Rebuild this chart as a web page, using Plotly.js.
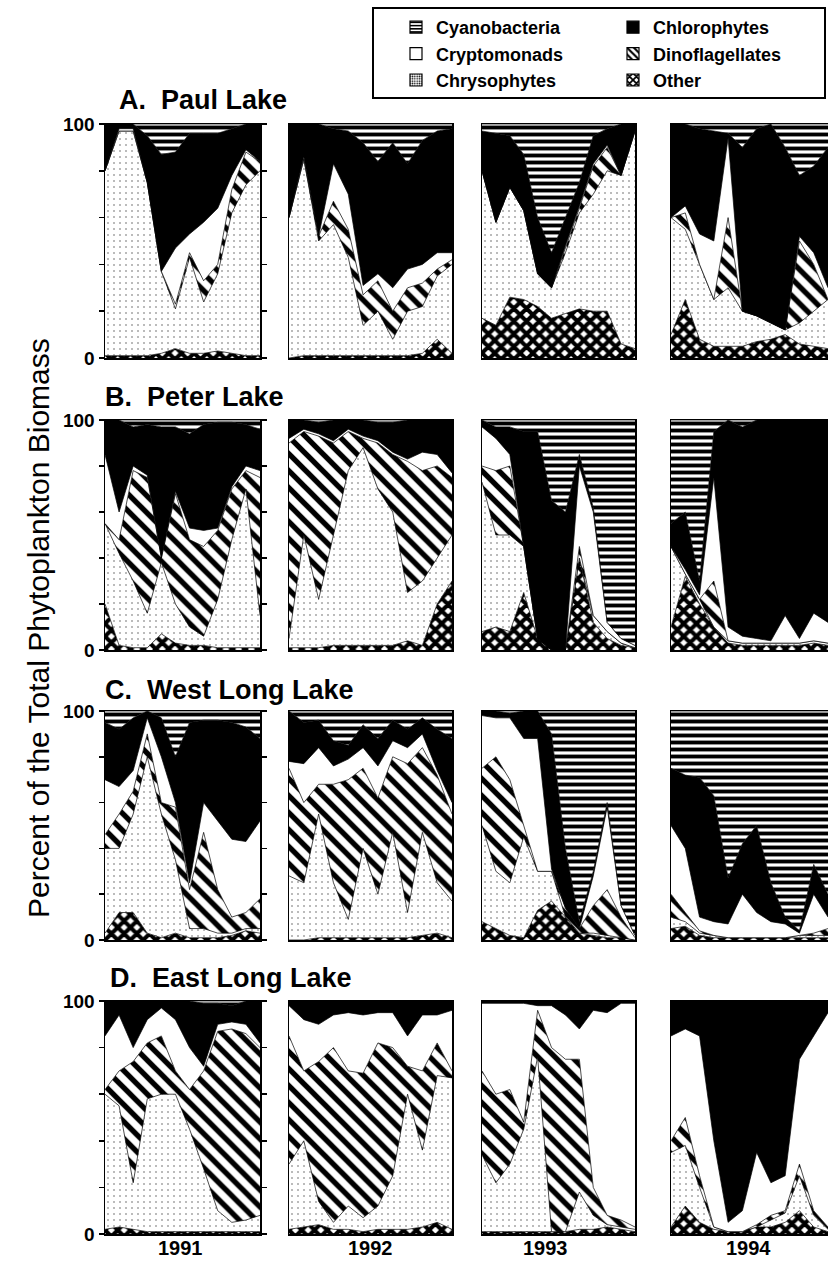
<!DOCTYPE html>
<html>
<head>
<meta charset="utf-8">
<script src="https://cdn.plot.ly/plotly-3.0.1.min.js"></script>
<style>html,body{margin:0;padding:0;background:#fff;}#chart{width:828px;height:1264px;}</style>
</head>
<body>
<div id="chart"></div>
<script>
// ---- data: percent of total phytoplankton biomass, 12 sampling dates per summer ----
const sampleNo = [1,2,3,4,5,6,7,8,9,10,11,12];
const years = ['1991','1992','1993','1994'];
const lakeTitles = ['A.\u00a0\u00a0Paul Lake','B.\u00a0\u00a0Peter Lake','C.\u00a0\u00a0West Long Lake','D.\u00a0\u00a0East Long Lake'];

// stacking order (bottom -> top)
const taxaKeys  = ['other','chryso','dino','crypto','chloro','cyano'];
const taxaNames = ['Other','Chrysophytes','Dinoflagellates','Cryptomonads','Chlorophytes','Cyanobacteria'];
// legend layout: two columns of three entries
const legendColumn = ['legend2','legend','legend2','legend','legend2','legend'];
const legendRanks  = [3,3,2,2,1,1];

const paul1991 = {
  other:  [1,1,1,1,2,4,2,2,3,2,1,1],
  chryso: [79,96,96,74,35,17,41,22,33,60,73,79],
  dino:   [0,0,0,0,0,2,2,9,4,10,14,4],
  crypto: [0,1,1,0,0,24,8,25,24,6,1,0],
  chloro: [20,2,2,20,50,41,43,38,32,20,11,16],
  cyano:  [0,0,0,5,13,12,4,4,4,2,0,0]
};
const paul1992 = {
  other:  [0,1,1,1,1,1,1,1,1,2,8,2],
  chryso: [60,84,49,56,42,13,19,7,19,20,27,38],
  dino:   [0,0,2,10,12,13,13,12,10,10,3,2],
  crypto: [0,1,0,16,15,4,3,10,8,8,7,3],
  chloro: [40,14,48,15,27,61,48,62,45,53,52,53],
  cyano:  [0,0,0,2,3,8,16,8,17,7,3,2]
};
const paul1993 = {
  other:  [17,14,26,25,22,17,19,21,20,20,6,4],
  chryso: [63,44,47,38,14,13,26,41,50,60,72,93],
  dino:   [0,0,0,0,0,0,2,2,12,10,0,0],
  crypto: [0,0,0,0,0,0,1,1,1,1,0,0],
  chloro: [17,38,22,24,24,15,12,10,12,7,22,3],
  cyano:  [3,4,5,13,40,55,40,25,5,2,0,0]
};
const paul1994 = {
  other:  [10,25,8,5,5,5,7,8,10,6,5,4],
  chryso: [50,30,32,20,25,15,11,7,2,9,15,21],
  dino:   [0,7,0,0,30,0,0,0,0,35,20,0],
  crypto: [0,3,13,25,34,0,0,0,0,2,5,5],
  chloro: [40,35,45,47,2,70,80,85,78,26,37,60],
  cyano:  [0,0,2,3,4,10,2,0,10,22,18,10]
};
const peter1991 = {
  other:  [20,2,1,1,7,3,2,2,1,1,1,1],
  chryso: [35,40,29,15,31,17,8,4,21,47,69,14],
  dino:   [0,6,48,59,2,48,38,39,30,22,8,60],
  crypto: [30,12,2,1,0,1,5,7,1,1,2,3],
  chloro: [15,40,17,22,57,28,41,46,46,28,18,18],
  cyano:  [0,0,3,2,3,3,6,2,1,1,2,4]
};
const peter1992 = {
  other:  [1,1,1,2,2,2,2,2,4,2,20,30],
  chryso: [4,49,21,48,76,86,68,58,21,28,20,20],
  dino:   [85,45,71,40,17,4,20,25,57,48,40,25],
  crypto: [2,1,1,1,1,1,1,1,1,8,5,2],
  chloro: [8,4,5,9,4,7,8,13,17,14,15,23],
  cyano:  [0,0,1,0,0,0,1,1,0,0,0,0]
};
const peter1993 = {
  other:  [8,10,8,25,5,0,0,40,12,5,2,1],
  chryso: [65,40,42,20,0,0,0,0,3,3,1,0],
  dino:   [7,28,30,0,0,0,0,5,0,0,0,0],
  crypto: [17,14,5,0,0,0,0,35,45,4,2,1],
  chloro: [3,5,12,50,90,65,60,5,2,0,0,0],
  cyano:  [0,3,3,5,5,35,40,15,38,88,95,98]
};
const peter1994 = {
  other:  [10,32,20,10,3,2,2,2,2,2,3,2],
  chryso: [35,1,2,0,1,1,1,1,1,1,1,1],
  dino:   [0,0,0,20,0,0,0,0,0,0,0,0],
  crypto: [0,2,2,45,6,3,2,1,12,2,12,9],
  chloro: [10,25,6,20,90,91,95,96,85,95,84,88],
  cyano:  [45,40,70,5,0,3,0,0,0,0,0,0]
};
const westLong1991 = {
  other:  [3,12,12,3,1,3,1,1,1,2,4,3],
  chryso: [37,28,43,77,54,32,4,4,2,1,1,2],
  dino:   [6,15,10,10,5,23,17,42,19,7,7,13],
  crypto: [24,12,9,7,20,2,3,13,30,34,31,34],
  chloro: [25,25,23,3,17,20,70,36,44,51,50,36],
  cyano:  [5,8,3,0,3,20,5,4,4,5,7,12]
};
const westLong1992 = {
  other:  [0,0,1,1,1,1,1,1,1,2,3,1],
  chryso: [28,25,54,24,8,39,19,46,11,45,22,16],
  dino:   [47,35,13,43,61,35,42,33,65,37,47,38],
  crypto: [3,17,16,8,9,9,14,7,7,6,2,5],
  chloro: [22,18,12,11,6,10,12,9,8,7,18,28],
  cyano:  [0,5,4,13,15,6,12,4,8,3,8,12]
};
const westLong1993 = {
  other:  [8,5,2,1,13,17,10,3,2,1,1,0],
  chryso: [42,25,23,44,17,13,0,0,1,1,0,0],
  dino:   [25,50,45,5,0,0,4,2,12,20,9,1],
  crypto: [23,17,27,38,58,1,0,0,13,36,5,1],
  chloro: [2,3,2,12,12,59,26,3,2,2,0,0],
  cyano:  [0,0,1,0,0,10,60,92,70,40,85,98]
};
const westLong1994 = {
  other:  [5,6,2,1,1,1,1,1,1,1,1,1],
  chryso: [5,2,1,1,0,0,0,0,0,1,1,1],
  dino:   [10,4,1,0,0,0,0,0,0,0,1,3],
  crypto: [30,28,6,6,6,19,11,7,6,1,17,5],
  chloro: [25,32,61,55,20,22,38,17,3,1,13,10],
  cyano:  [25,28,29,37,73,58,50,75,90,96,67,80]
};
const eastLong1991 = {
  other:  [2,3,2,1,1,1,1,1,1,1,1,1],
  chryso: [58,52,20,57,59,59,44,27,9,4,5,7],
  dino:   [2,15,52,24,25,10,17,42,77,83,80,72],
  crypto: [23,24,6,10,12,22,18,2,3,3,4,2],
  chloro: [15,6,20,8,3,8,20,27,9,7,10,18],
  cyano:  [0,0,0,0,0,0,0,1,1,2,0,0]
};
const eastLong1992 = {
  other:  [2,3,4,2,2,1,2,2,2,3,5,2],
  chryso: [28,37,10,3,10,6,10,23,58,33,63,65],
  dino:   [55,30,60,75,58,62,70,55,12,34,14,3],
  crypto: [13,22,16,14,25,25,13,15,13,24,12,26],
  chloro: [2,8,10,6,5,6,5,5,15,6,6,4],
  cyano:  [0,0,0,0,0,0,0,0,0,0,0,0]
};
const eastLong1993 = {
  other:  [1,1,1,1,1,1,1,2,2,3,2,1],
  chryso: [33,21,29,44,75,0,0,16,6,1,1,1],
  dino:   [36,38,32,3,20,79,74,57,12,4,3,1],
  crypto: [29,39,37,51,2,18,19,13,76,87,93,96],
  chloro: [1,1,1,1,2,2,6,12,4,5,1,1],
  cyano:  [0,0,0,0,0,0,0,0,0,0,0,0]
};
const eastLong1994 = {
  other:  [3,12,5,2,1,1,3,3,5,10,3,1],
  chryso: [32,26,15,1,0,0,0,3,4,15,5,1],
  dino:   [5,12,5,0,0,0,1,2,1,5,2,1],
  crypto: [45,38,60,37,4,9,31,14,15,45,75,92],
  chloro: [15,12,15,60,95,90,65,78,75,25,15,5],
  cyano:  [0,0,0,0,0,0,0,0,0,0,0,0]
};

const lakeData = [
  [paul1991, paul1992, paul1993, paul1994],
  [peter1991, peter1992, peter1993, peter1994],
  [westLong1991, westLong1992, westLong1993, westLong1994],
  [eastLong1991, eastLong1992, eastLong1993, eastLong1994]
];

// ---- styles ----
const W = 828, H = 1264;
const FONT = 'Liberation Sans, Arial, Helvetica, sans-serif';
const styles = {
  other:  {fillcolor:'black', fillpattern:{shape:'x', fgcolor:'black', bgcolor:'white', size:9, solidity:0.7}},
  chryso: {fillcolor:'white', fillpattern:{shape:'.', fgcolor:'#555', bgcolor:'white', size:6, solidity:0.05}},
  dino:   {fillcolor:'white', fillpattern:{shape:'\\', fgcolor:'black', bgcolor:'white', size:12, solidity:0.45}},
  crypto: {fillcolor:'white'},
  chloro: {fillcolor:'black'},
  cyano:  {fillcolor:'white', fillpattern:{shape:'-', fgcolor:'black', bgcolor:'white', size:7, solidity:0.55}}
};
// legend swatch styles (square legend symbols)
const swatch = {
  other:  {color:'black', pattern:{shape:'x', fgcolor:'black', bgcolor:'white', size:6, solidity:0.6}},
  chryso: {color:'white', pattern:{shape:'.', fgcolor:'black', bgcolor:'white', size:3, solidity:0.35}},
  dino:   {color:'white', pattern:{shape:'\\', fgcolor:'black', bgcolor:'white', size:6, solidity:0.45}},
  crypto: {color:'white'},
  chloro: {color:'black'},
  cyano:  {color:'white', pattern:{shape:'-', fgcolor:'black', bgcolor:'white', size:4, solidity:0.5}}
};

// plot-area pixel boxes
const colPx = [[105,260],[289,452],[482,635],[671,828]];
const rowPx = [[124,358],[420,650],[711,940],[1001,1234]];

const traces = [];
lakeData.forEach((row, li) => {
  row.forEach((d, yi) => {
    const xa = yi === 0 ? 'x' : 'x' + (yi + 1);
    const ya = li === 0 ? 'y' : 'y' + (li + 1);
    taxaKeys.forEach((k, ti) => {
      const t = {
        type:'scatter', mode:'lines', x: sampleNo, y: d[k],
        stackgroup: 'g' + li + '_' + yi,
        xaxis: xa, yaxis: ya,
        name: taxaNames[ti],
        showlegend: false,
        line: {width: 0.7, color: 'black'},
        hoverinfo: 'skip',
        fillcolor: styles[k].fillcolor
      };
      if (styles[k].fillpattern) t.fillpattern = styles[k].fillpattern;
      traces.push(t);
    });
  });
});
// legend entries: zero-height bars outside the visible x range (nothing drawn),
// used so the legends show square pattern swatches
taxaKeys.forEach((k, ti) => {
  const m = {color: swatch[k].color, line: {color:'black', width: 1.2}};
  if (swatch[k].pattern) m.pattern = swatch[k].pattern;
  traces.push({
    type:'bar', x: [0], y: [0], xaxis:'x', yaxis:'y',
    name: taxaNames[ti], legend: legendColumn[ti], legendrank: legendRanks[ti],
    showlegend: true, marker: m, hoverinfo:'skip'
  });
});

const legendBase = {
  orientation: 'v', y: 1 - 9 / H, xanchor: 'left', yanchor: 'top',
  borderwidth: 0, bgcolor: 'rgba(0,0,0,0)',
  font: {family: FONT, size: 18, weight: 'bold', color: 'black'},
  traceorder: 'normal', tracegroupgap: 0
};

const layout = {
  width: W, height: H,
  margin: {l:0, r:0, t:0, b:0},
  paper_bgcolor: 'white', plot_bgcolor: 'white',
  font: {family: FONT, color: 'black'},
  showlegend: true,
  legend:  Object.assign({}, legendBase, {x: 396 / W}),
  legend2: Object.assign({}, legendBase, {x: 613 / W}),
  shapes: [{
    type:'rect', xref:'paper', yref:'paper',
    x0: 373 / W, x1: 825 / W, y0: 1 - 98 / H, y1: 1 - 8 / H,
    line: {color:'black', width: 2}, fillcolor:'rgba(0,0,0,0)'
  }],
  annotations: []
};

colPx.forEach((c, i) => {
  const key = i === 0 ? 'xaxis' : 'xaxis' + (i + 1);
  layout[key] = {
    domain: [c[0] / W, c[1] / W], range: [1, 12], anchor: 'y4',
    showline: true, linecolor: 'black', linewidth: 1.5, mirror: 'all',
    showticklabels: false, ticks: '', showgrid: false, zeroline: false, fixedrange: true
  };
});
rowPx.forEach((r, i) => {
  const key = i === 0 ? 'yaxis' : 'yaxis' + (i + 1);
  layout[key] = {
    domain: [1 - r[1] / H, 1 - r[0] / H], range: [0, 100], anchor: 'x',
    showline: true, linecolor: 'black', linewidth: 1.5, mirror: 'all',
    ticks: 'outside', ticklen: 5, tickwidth: 1.5, tickcolor: 'black',
    tickvals: [0,20,40,60,80,100], ticktext: ['0','','','','','100'],
    tickfont: {family: FONT, size: 19, weight: 'bold', color: 'black'},
    showgrid: false, zeroline: false, fixedrange: true
  };
});

// panel titles
const titlePos = [[117,100],[103,397],[103,690],[108,978]];
lakeTitles.forEach((t, i) => {
  layout.annotations.push({
    text: t, xref:'paper', yref:'paper', x: titlePos[i][0] / W, y: 1 - titlePos[i][1] / H,
    xanchor:'left', yanchor:'middle', showarrow:false,
    font:{family: FONT, size: 27, weight:'bold', color:'black'}
  });
});
// year labels
const yearX = [180, 370, 545, 748];
years.forEach((yr, i) => {
  layout.annotations.push({
    text: yr, xref:'paper', yref:'paper', x: yearX[i] / W, y: 1 - 1248 / H,
    xanchor:'center', yanchor:'middle', showarrow:false,
    font:{family: FONT, size: 20, weight:'bold', color:'black'}
  });
});
// y-axis title
layout.annotations.push({
  text: 'Percent of the Total Phytoplankton Biomass', xref:'paper', yref:'paper',
  x: 38 / W, y: 1 - 628 / H, xanchor:'center', yanchor:'middle', textangle: -90, showarrow:false,
  font:{family: FONT, size: 30, color:'black'}
});

Plotly.newPlot('chart', traces, layout, {staticPlot: true, displayModeBar: false});
</script>
</body>
</html>
